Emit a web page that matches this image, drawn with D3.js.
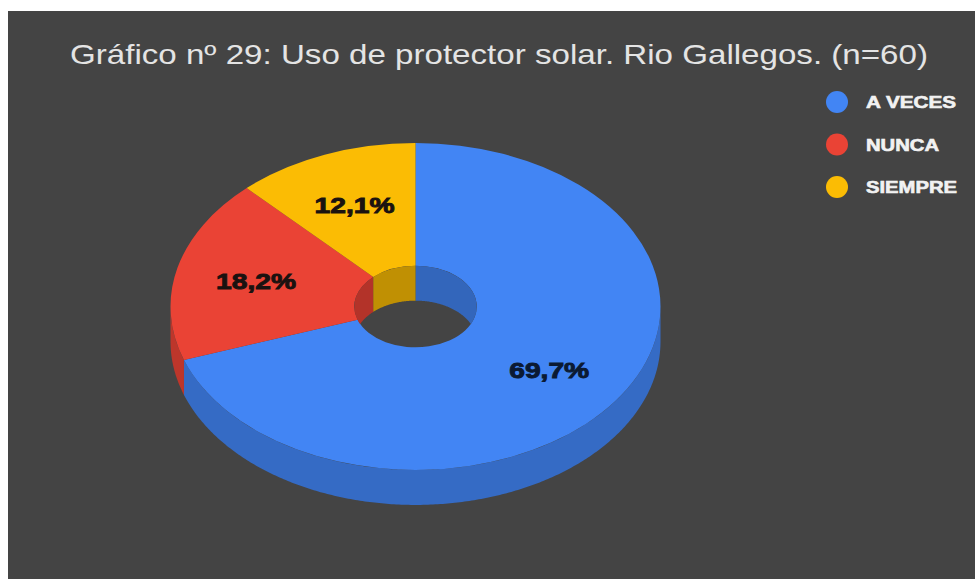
<!DOCTYPE html>
<html>
<head>
<meta charset="utf-8">
<script src="https://cdn.jsdelivr.net/npm/d3@7"></script>
<style>
  html, body { margin: 0; padding: 0; background: #fff; }
  svg { display: block; }
</style>
</head>
<body>
<script>
// Survey answers and their shares (%)
const categories = ["A VECES", "NUNCA", "SIEMPRE"];
const values = [69.7, 18.2, 12.1];
const valueLabels = ["69,7%", "18,2%", "12,1%"];
const colors = ["#4285f4", "#ea4335", "#fbbc04"];
const title = "Gráfico nº 29: Uso de protector solar. Rio Gallegos. (n=60)";

const W = 975, H = 579;
const svg = d3.select("body").append("svg").attr("width", W).attr("height", H);

// dark panel
svg.append("rect").attr("x", 8).attr("y", 11)
  .attr("width", W - 8).attr("height", H - 11).attr("fill", "#444444");

// title
svg.append("text")
  .attr("x", 499).attr("y", 64)
  .attr("text-anchor", "middle")
  .attr("font-family", "Liberation Sans, Arial, sans-serif")
  .attr("font-size", 28)
  .attr("fill", "#e4e4e4")
  .attr("textLength", 858).attr("lengthAdjust", "spacingAndGlyphs")
  .text(title);

// 3D donut geometry
const cx = 415.5, cy = 306.5, R = 245, k = 0.667, depth = 35, r0 = R * 0.25;
const arcs = d3.pie().sort(null).value(d => d)(values);
const TAU = 2 * Math.PI;
const pt = (r, a, dy = 0) => [cx + r * Math.sin(a), cy - k * r * Math.cos(a) + dy];

// band between an elliptical arc and the same arc pushed down by the depth
function band(r, a0, a1) {
  const n = Math.max(2, Math.ceil((a1 - a0) / 0.01));
  const angles = d3.range(n + 1).map(i => a0 + (a1 - a0) * i / n);
  const upper = angles.map(a => pt(r, a));
  const lower = angles.slice().reverse().map(a => pt(r, a, depth));
  return d3.line()(upper.concat(lower)) + "Z";
}
function overlap(a0, a1, b0, b1) {
  const s = Math.max(a0, b0), e = Math.min(a1, b1);
  return e > s ? [s, e] : null;
}

// outer wall (front half)
const outerWall = svg.append("g");
arcs.forEach((d, i) => {
  const o = overlap(d.startAngle, d.endAngle, Math.PI / 2, 3 * Math.PI / 2);
  if (o) outerWall.append("path").attr("d", band(R, o[0], o[1]))
    .attr("fill", d3.color(colors[i]).darker(0.6));
});

// top face
const face = svg.append("g").attr("transform", `translate(${cx},${cy}) scale(1,${k})`);
const arcGen = d3.arc().innerRadius(r0).outerRadius(R);
face.selectAll("path").data(arcs).join("path")
  .attr("d", arcGen)
  .attr("fill", (d, i) => colors[i]);

// inner wall seen through the hole (back half)
svg.append("clipPath").attr("id", "hole")
  .append("ellipse").attr("cx", cx).attr("cy", cy).attr("rx", r0).attr("ry", k * r0);
const innerWall = svg.append("g").attr("clip-path", "url(#hole)");
arcs.forEach((d, i) => {
  [[0, Math.PI / 2], [3 * Math.PI / 2, TAU]].forEach(([b0, b1]) => {
    const o = overlap(d.startAngle, d.endAngle, b0, b1);
    if (o) innerWall.append("path").attr("d", band(r0, o[0], o[1]))
      .attr("fill", d3.color(colors[i]).darker(0.75));
  });
});

// value labels (heavy weight via a thin same-colour stroke)
arcs.forEach((d, i) => {
  const [x, y] = pt(R * 0.67, (d.startAngle + d.endAngle) / 2);
  const ink = i === 0 ? "#0b1a33" : "#1a1210";
  svg.append("text")
    .attr("x", x).attr("y", y + 8)
    .attr("text-anchor", "middle")
    .attr("font-family", "Liberation Sans, Arial, sans-serif")
    .attr("font-weight", "bold")
    .attr("font-size", 22)
    .attr("fill", ink).attr("stroke", ink).attr("stroke-width", 0.9)
    .attr("textLength", 80).attr("lengthAdjust", "spacingAndGlyphs")
    .text(valueLabels[i]);
});

// legend
const legendY = d3.scalePoint().domain(categories).range([102, 187]);
const legendW = [90, 73, 91];
const legend = svg.append("g");
categories.forEach((c, i) => {
  legend.append("circle").attr("cx", 837).attr("cy", legendY(c)).attr("r", 11)
    .attr("fill", colors[i]);
  legend.append("text")
    .attr("x", 866).attr("y", legendY(c) + 6)
    .attr("font-family", "Liberation Sans, Arial, sans-serif")
    .attr("font-weight", "bold")
    .attr("font-size", 16)
    .attr("fill", "#f2f2f2").attr("stroke", "#f2f2f2").attr("stroke-width", 0.6)
    .attr("textLength", legendW[i]).attr("lengthAdjust", "spacingAndGlyphs")
    .text(c);
});
</script>
</body>
</html>
